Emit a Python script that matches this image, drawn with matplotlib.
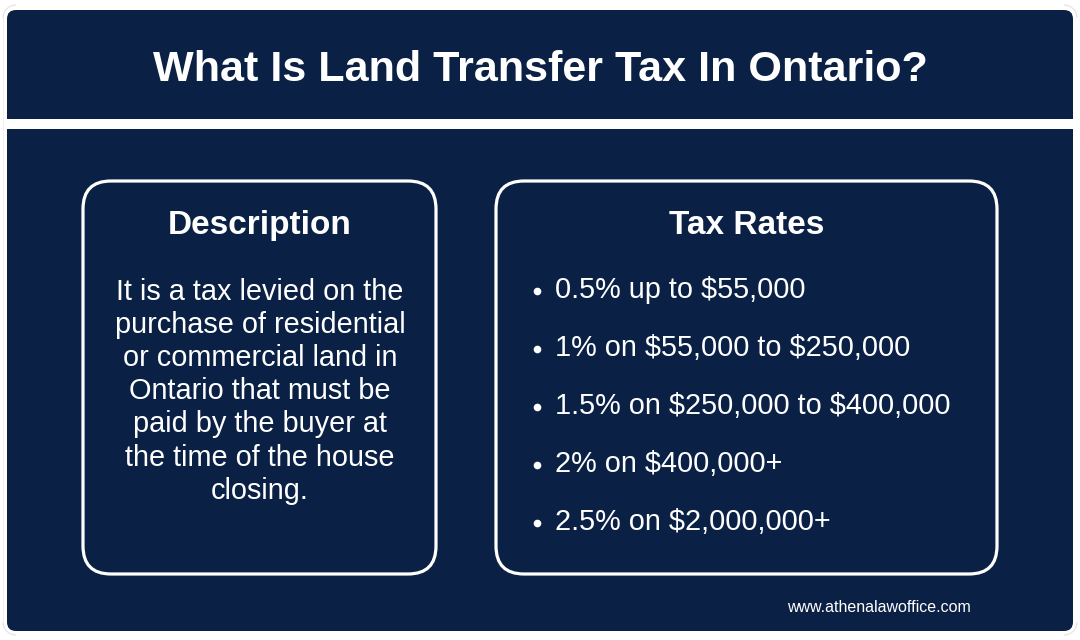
import matplotlib
matplotlib.use("Agg")
import matplotlib.pyplot as plt
from matplotlib.patches import FancyBboxPatch, Arc

TITLE = "What Is Land Transfer Tax In Ontario?"
LEFT_HEAD = "Description"
LEFT_LINES = ["It is a tax levied on the", "purchase of residential", "or commercial land in",
              "Ontario that must be", "paid by the buyer at", "the time of the house", "closing."]
RIGHT_HEAD = "Tax Rates"
RATES = ["0.5% up to $55,000", "1% on $55,000 to $250,000", "1.5% on $250,000 to $400,000",
         "2% on $400,000+", "2.5% on $2,000,000+"]
CREDIT = "www.athenalawoffice.com"

NAVY = "#0a2145"
FAINT = "#dedede"
plt.rcParams['font.family'] = ['Liberation Sans', 'DejaVu Sans']

fig = plt.figure(figsize=(10.8, 6.4), dpi=100, facecolor="white")
ax = fig.add_axes([0, 0, 1, 1])
ax.set_xlim(0, 1080)
ax.set_ylim(640, 0)
ax.axis("off")

def rbox(x0, y0, x1, y1, r, fc, ec="none", lw=0):
    ax.add_patch(FancyBboxPatch((x0 + r, y0 + r), x1 - x0 - 2 * r, y1 - y0 - 2 * r,
                                boxstyle=f"round,pad={r},rounding_size={r}",
                                fc=fc, ec=ec, lw=lw))

# faint outer corner traces
for cx, cy, a1, a2 in [(16, 18, 180, 270), (1064, 18, 270, 360), (16, 622, 90, 180), (1064, 622, 0, 90)]:
    ax.add_patch(Arc((cx, cy), 26, 26, theta1=a1, theta2=a2, color=FAINT, lw=0.7))
ax.plot([3, 3], [18, 622], color="#efefef", lw=0.7)

rbox(7, 10, 1073, 119, 9, NAVY)
ax.add_patch(plt.Rectangle((7, 100), 1066, 19, fc=NAVY, ec="none"))
rbox(7, 129, 1073, 631, 9, NAVY)
ax.add_patch(plt.Rectangle((7, 129), 1066, 19, fc=NAVY, ec="none"))

rbox(83, 181, 436, 574, 28, NAVY, "white", 2.3)
rbox(496, 181, 997, 574, 28, NAVY, "white", 2.3)

ax.text(540, 81, TITLE, color="white", fontsize=31.1, fontweight="bold", ha="center", va="baseline", parse_math=False)
ax.text(260, 234, LEFT_HEAD, color="white", fontsize=24, fontweight="bold", ha="center", va="baseline", parse_math=False)
ax.text(747, 234, RIGHT_HEAD, color="white", fontsize=24, fontweight="bold", ha="center", va="baseline", parse_math=False)

for i, line in enumerate(LEFT_LINES):
    ax.text(260, 300 + i * 33.1, line, color="white", fontsize=20.8, ha="center", va="baseline", parse_math=False)

for i, rate in enumerate(RATES):
    y = 298 + i * 58.1
    ax.text(555, y, rate, color="white", fontsize=20.8, ha="left", va="baseline", parse_math=False)
    ax.plot([537], [y - 7.5], "o", color="white", ms=5.5, mec="none")

ax.text(879, 612, CREDIT, color="white", fontsize=11.55, ha="center", va="baseline", parse_math=False)

fig.savefig("out.png", dpi=100, facecolor="white")
